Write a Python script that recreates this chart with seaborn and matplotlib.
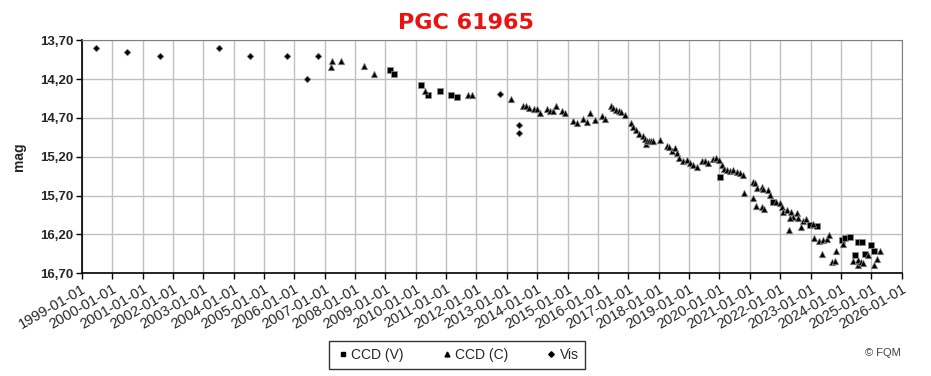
import matplotlib
matplotlib.use("Agg")
import matplotlib.pyplot as plt
import matplotlib.dates as mdates
from matplotlib.ticker import FixedLocator, FuncFormatter
import seaborn as sns
import pandas as pd

# Data (decimal year, magnitude)
vis_year = [1999.47, 2000.48, 2001.58, 2003.52, 2004.54, 2005.75, 2006.41, 2006.77,
            2012.77, 2013.40, 2013.40]
vis_mag = [13.80, 13.85, 13.90, 13.80, 13.90, 13.90, 14.20, 13.90,
           14.39, 14.79, 14.89]

ccdv_year = [2009.14, 2009.28, 2010.17, 2010.40, 2010.80, 2011.16, 2011.36, 2020.02,
             2021.75, 2022.98, 2023.20, 2024.02, 2024.13, 2024.30, 2024.48, 2024.57,
             2024.70, 2024.79, 2024.98, 2025.10]
ccdv_mag = [14.08, 14.14, 14.28, 14.41, 14.35, 14.41, 14.43, 15.46,
            15.78, 16.08, 16.09, 16.27, 16.24, 16.23, 16.46, 16.30,
            16.30, 16.45, 16.33, 16.41]

ccdc_year = [2007.21, 2007.24, 2007.54, 2008.30, 2008.62, 2010.30, 2011.71, 2011.86,
             2013.13, 2013.52, 2013.63, 2013.74, 2013.89, 2014.00, 2014.09, 2014.31,
             2014.42, 2014.53, 2014.62, 2014.82, 2014.90, 2015.19, 2015.32, 2015.50,
             2015.63, 2015.74, 2015.90, 2016.14, 2016.23, 2016.42, 2016.50, 2016.59,
             2016.68, 2016.77, 2016.88, 2017.08, 2017.16, 2017.25, 2017.36, 2017.47,
             2017.55, 2017.57, 2017.62, 2017.68, 2017.74, 2017.82, 2018.04, 2018.26,
             2018.35, 2018.43, 2018.54, 2018.59, 2018.68, 2018.81, 2018.92, 2019.03,
             2019.14, 2019.25, 2019.41, 2019.52, 2019.63, 2019.80, 2019.88, 2019.99,
             2020.07, 2020.15, 2020.24, 2020.35, 2020.45, 2020.57, 2020.68, 2020.77,
             2020.81, 2021.11, 2021.17, 2021.25, 2021.39, 2021.44, 2021.59, 2021.66,
             2021.86, 2021.99, 2022.05, 2022.10, 2022.21, 2022.36, 2022.43, 2022.56,
             2022.60, 2022.76, 2022.85, 2023.07, 2021.11, 2021.20, 2021.39, 2021.48,
             2022.29, 2022.32, 2022.67, 2023.10, 2023.28, 2023.37, 2023.42, 2023.53,
             2023.62, 2023.70, 2023.80, 2023.84, 2024.08, 2024.41, 2024.55, 2024.57,
             2024.65, 2024.74, 2024.90, 2025.09, 2025.18, 2025.29]
ccdc_mag = [14.04, 13.96, 13.97, 14.03, 14.13, 14.35, 14.40, 14.40,
            14.45, 14.54, 14.54, 14.57, 14.58, 14.58, 14.63, 14.58,
            14.61, 14.61, 14.54, 14.61, 14.63, 14.74, 14.76, 14.71,
            14.75, 14.63, 14.73, 14.67, 14.71, 14.55, 14.575, 14.60,
            14.61, 14.62, 14.66, 14.77, 14.82, 14.86, 14.90, 14.93,
            14.97, 15.03, 15.00, 14.99, 14.99, 14.99, 14.98, 15.06,
            15.08, 15.12, 15.09, 15.15, 15.22, 15.25, 15.24, 15.28,
            15.30, 15.33, 15.25, 15.26, 15.28, 15.23, 15.21, 15.24,
            15.30, 15.36, 15.37, 15.38, 15.37, 15.39, 15.41, 15.43,
            15.66, 15.52, 15.54, 15.60, 15.59, 15.62, 15.63, 15.69,
            15.78, 15.80, 15.84, 15.91, 15.88, 15.91, 15.97, 15.92,
            15.99, 16.03, 16.00, 16.06, 15.73, 15.83, 15.84, 15.87,
            16.14, 15.99, 16.10, 16.24, 16.29, 16.45, 16.27, 16.26,
            16.21, 16.55, 16.54, 16.41, 16.32, 16.54, 16.59, 16.53,
            16.55, 16.57, 16.46, 16.59, 16.52, 16.41]

y_ticks = [13.70, 14.20, 14.70, 15.20, 15.70, 16.20, 16.70]


def to_date(years):
    years = pd.Series(years)
    base = pd.to_datetime(years.astype(int).astype(str) + "-01-01")
    return base + pd.to_timedelta((years - years.astype(int)) * 365.25, unit="D")


df = pd.concat([
    pd.DataFrame({"date": to_date(ccdv_year), "mag": ccdv_mag, "series": "CCD (V)"}),
    pd.DataFrame({"date": to_date(ccdc_year), "mag": ccdc_mag, "series": "CCD (C)"}),
    pd.DataFrame({"date": to_date(vis_year), "mag": vis_mag, "series": "Vis"}),
])

sns.set_style("white")
plt.rcParams["font.family"] = ["Liberation Sans", "DejaVu Sans"]

fig = plt.figure(figsize=(9.31, 3.76), dpi=100)
ax = fig.add_axes([0.0878, 0.2731, 0.8807, 0.6197])

markers = {"CCD (V)": "s", "CCD (C)": "^", "Vis": "D"}
sizes = {"CCD (V)": 18, "CCD (C)": 22, "Vis": 12}
leg_sizes = {"CCD (V)": 3.5, "CCD (C)": 3.5, "Vis": 2.8}
handles = []
for name in ["CCD (V)", "CCD (C)", "Vis"]:
    sub = df[df["series"] == name]
    sns.scatterplot(data=sub, x="date", y="mag", marker=markers[name], s=sizes[name],
                    color="black", edgecolor="#909090", linewidth=0.5, ax=ax, zorder=3)
    handles.append(plt.Line2D([], [], ls="", marker=markers[name], color="black",
                              markersize=leg_sizes[name], label=name))

ax.set_xlim(pd.Timestamp("1999-01-01"), pd.Timestamp("2026-01-01"))
ax.set_ylim(16.70, 13.70)
ax.xaxis.set_major_locator(mdates.YearLocator())
ax.xaxis.set_major_formatter(mdates.DateFormatter("%Y-%m-%d"))
ax.yaxis.set_major_locator(FixedLocator(y_ticks))
ax.yaxis.set_major_formatter(FuncFormatter(lambda v, p: f"{v:.2f}".replace(".", ",")))

ax.grid(True, color="#c0c0c0", linewidth=1)
ax.set_axisbelow(True)
for side in ["top", "right"]:
    ax.spines[side].set_color("#808080")
for side in ["left", "bottom"]:
    ax.spines[side].set_color("black")
    ax.spines[side].set_linewidth(1.2)

ax.tick_params(axis="x", direction="out", length=4, width=1, color="black",
               bottom=True, labelsize=10.5, pad=2)
ax.tick_params(axis="y", direction="out", length=4, width=1, color="black",
               left=True, labelsize=9.5, pad=2)
plt.setp(ax.get_xticklabels(), rotation=30, ha="right", rotation_mode="anchor")
plt.setp(ax.get_yticklabels(), fontweight="bold")

ax.set_xlabel("")
ax.set_ylabel("mag", fontsize=10, fontweight="bold", labelpad=10)

fig.text(0.5, 0.94, "PGC 61965", ha="center", va="center", color="#ee1111",
         fontsize=16, fontweight="bold", family="DejaVu Sans")

leg = fig.legend(handles=handles, loc="center", bbox_to_anchor=(0.491, 0.057), ncol=3,
                 frameon=True, fancybox=False, edgecolor="black", fontsize=10,
                 handletextpad=0.1, columnspacing=2.6, borderpad=0.5, handlelength=1.0)
leg.get_frame().set_linewidth(1)

fig.text(0.967, 0.06, "© FQM", ha="right", va="center", fontsize=8, color="#404040")

fig.savefig("out.png", dpi=100)
